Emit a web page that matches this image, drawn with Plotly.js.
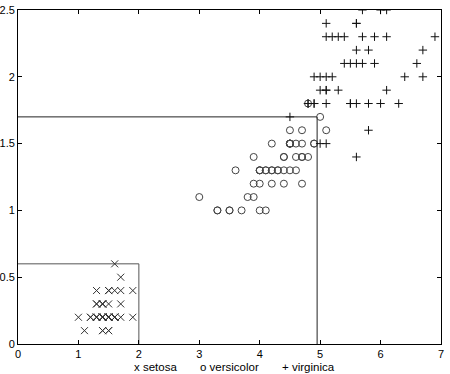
<!DOCTYPE html>
<html><head><meta charset="utf-8">
<script src="https://cdn.plot.ly/plotly-3.0.1.min.js"></script>
<style>body{margin:0;background:#fff}#c{width:450px;height:374px}</style>
</head><body><div id="c"></div>
<script>
const setosaLen = [1.4,1.4,1.3,1.5,1.4,1.7,1.4,1.5,1.4,1.5,1.5,1.6,1.4,1.1,1.2,1.5,1.3,1.4,1.7,1.5,1.7,1.5,1.0,1.7,1.9,1.6,1.6,1.5,1.4,1.6,1.6,1.5,1.5,1.4,1.5,1.2,1.3,1.4,1.3,1.5,1.3,1.3,1.3,1.6,1.9,1.4,1.6,1.4,1.5,1.4];
const setosaWid = [0.2,0.2,0.2,0.2,0.2,0.4,0.3,0.2,0.2,0.1,0.2,0.2,0.1,0.1,0.2,0.4,0.4,0.3,0.3,0.3,0.2,0.4,0.2,0.5,0.2,0.2,0.4,0.2,0.2,0.2,0.2,0.4,0.1,0.2,0.2,0.2,0.2,0.1,0.2,0.2,0.3,0.3,0.2,0.6,0.4,0.3,0.2,0.2,0.2,0.2];
const versLen = [4.7,4.5,4.9,4.0,4.6,4.5,4.7,3.3,4.6,3.9,3.5,4.2,4.0,4.7,3.6,4.4,4.5,4.1,4.5,3.9,4.8,4.0,4.9,4.7,4.3,4.4,4.8,5.0,4.5,3.5,3.8,3.7,3.9,5.1,4.5,4.5,4.7,4.4,4.1,4.0,4.4,4.6,4.0,3.3,4.2,4.2,4.2,4.3,3.0,4.1];
const versWid = [1.4,1.5,1.5,1.3,1.5,1.3,1.6,1.0,1.3,1.4,1.0,1.5,1.0,1.4,1.3,1.4,1.5,1.0,1.5,1.1,1.8,1.3,1.5,1.2,1.3,1.4,1.4,1.7,1.5,1.0,1.1,1.0,1.2,1.6,1.5,1.6,1.5,1.3,1.3,1.3,1.2,1.4,1.2,1.0,1.3,1.2,1.3,1.3,1.1,1.3];
const virgLen = [6.0,5.1,5.9,5.6,5.8,6.6,4.5,6.3,5.8,6.1,5.1,5.3,5.5,5.0,5.1,5.3,5.5,6.7,6.9,5.0,5.7,4.9,6.7,4.9,5.7,6.0,4.8,4.9,5.6,5.8,6.1,6.4,5.6,5.1,5.6,6.1,5.6,5.5,4.8,5.4,5.6,5.1,5.1,5.9,5.7,5.2,5.0,5.2,5.4,5.1];
const virgWid = [2.5,1.9,2.1,1.8,2.2,2.1,1.7,1.8,1.8,2.5,2.0,1.9,2.1,2.0,2.4,2.3,1.8,2.2,2.3,1.5,2.3,2.0,2.0,1.8,2.1,1.8,1.8,1.8,2.1,1.6,1.9,2.0,2.2,1.5,1.4,2.3,2.4,1.8,1.8,2.1,2.4,2.3,1.9,2.3,2.5,2.3,1.9,2.0,2.3,1.8];
// decision region boundaries
const setosaBoxX = [0, 2, 2];
const setosaBoxY = [0.6, 0.6, 0];
const versBoxX = [0, 4.95, 4.95];
const versBoxY = [1.7, 1.7, 0];
const legendLabels = ['x setosa', 'o versicolor', '+ virginica'];
const xTicks = [0,1,2,3,4,5,6,7];
const yTicks = [0,0.5,1,1.5,2,2.5];

const FONT = 'Liberation Sans, Arial, sans-serif';
const mk = (sym, col, sz) => ({symbol: sym, size: sz, color: col, line: {color: col, width: 1}});
const traces = [
  {x: setosaBoxX, y: setosaBoxY, mode: 'lines', line: {color: '#555', width: 1}, hoverinfo: 'skip'},
  {x: versBoxX, y: versBoxY, mode: 'lines', line: {color: '#222', width: 1}, hoverinfo: 'skip'},
  {x: setosaLen, y: setosaWid, mode: 'markers', marker: mk('x-thin-open', '#333', 7)},
  {x: versLen, y: versWid, mode: 'markers', marker: mk('circle-open', '#444', 7)},
  {x: virgLen, y: virgWid, mode: 'markers', marker: mk('cross-thin-open', '#111', 6)}
];
const axisCommon = {showgrid: false, zeroline: false, showline: true, linecolor: '#000', linewidth: 1,
  mirror: 'ticks', ticks: 'inside', ticklen: 4, tickcolor: '#000',
  tickfont: {family: FONT, size: 11, color: '#000'}};
const layout = {
  width: 450, height: 374, showlegend: false,
  margin: {l: 18, r: 9, t: 10, b: 30},
  paper_bgcolor: '#fff', plot_bgcolor: '#fff',
  xaxis: Object.assign({}, axisCommon, {range: [0, 7], tickvals: xTicks, ticktext: xTicks.map(String)}),
  yaxis: Object.assign({}, axisCommon, {range: [0, 2.5], tickvals: yTicks, ticktext: yTicks.map(String)}),
  annotations: legendLabels.map((t, i) => ({
    text: t, xref: 'paper', yref: 'paper', x: [0.27, 0.425, 0.62][i], y: -0.069,
    xanchor: 'left', yanchor: 'middle', showarrow: false,
    font: {family: FONT, size: 11.5, color: '#000'}
  }))
};
Plotly.newPlot('c', traces, layout, {displayModeBar: false, staticPlot: true});
</script></body></html>
